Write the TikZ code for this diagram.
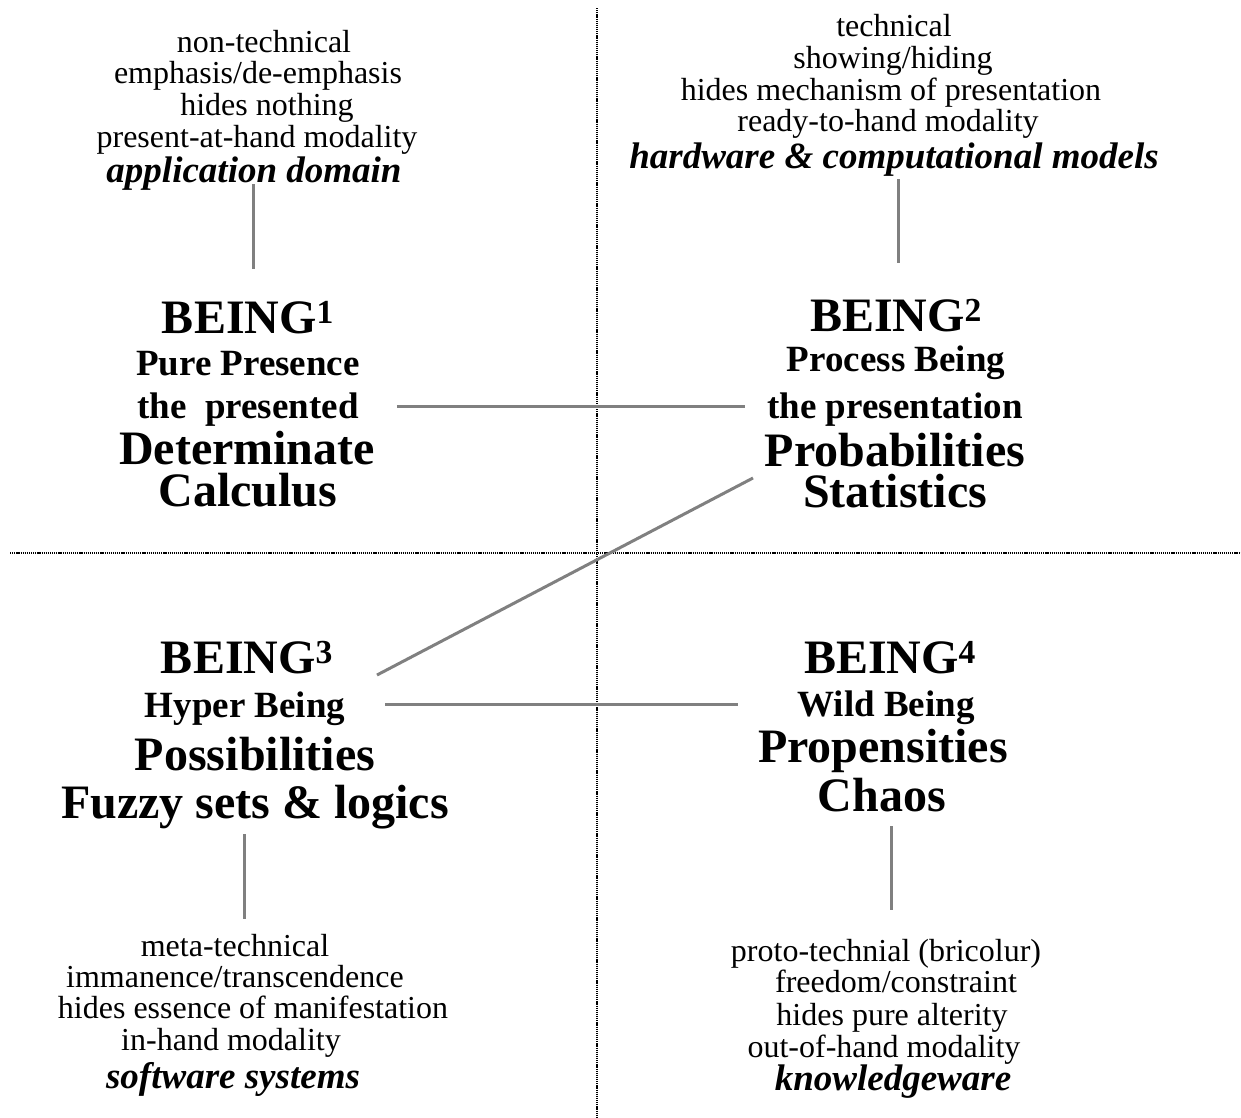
\documentclass[tikz,border=0pt]{standalone}
\usepackage{fontspec}
\setmainfont{Liberation Serif}
\begin{document}
\begin{tikzpicture}[x=1pt, y=-1pt, line join=round,
		txt/.style={anchor=base, inner sep=2pt, font=\fontsize{32}{32}\selectfont},
		dom/.style={anchor=base, inner sep=2pt, font=\fontsize{37}{37}\selectfont\bfseries\itshape},
		mid/.style={anchor=base, inner sep=2pt, font=\fontsize{37}{37}\selectfont\bfseries},
		big/.style={anchor=base, inner sep=2pt, font=\fontsize{48}{48}\selectfont\bfseries},
		link/.style={draw=black!50, line width=3pt},
		divider/.style={draw=black, line width=1.6pt, dash pattern=on 1.2pt off 0.9pt}]
	\useasboundingbox (0,0) rectangle (1241,1117);
	% quadrants
	\draw[divider] (597,8) -- (597,1117);
	\draw[divider] (10,553) -- (1241,553);
	% top left
	\foreach \x/\y/\t [count=\i] in {264/52/non-technical, 258/83/{emphasis/de-emphasis}, 267/115/hides nothing, 257/147/present-at-hand modality}
		\node[txt] (tl\i) at (\x,\y) {\t};
	\node[dom] (tldom) at (254,182) {application domain};
	% top right
	\foreach \x/\y/\t [count=\i] in {894/36/technical, 893/68/{showing/hiding}, 891/100/hides mechanism of presentation, 888/131/ready-to-hand modality}
		\node[txt] (tr\i) at (\x,\y) {\t};
	\node[dom] (trdom) at (894,168) {hardware \& computational models};
	% being 1
	\node[big] (b1) at (248,333) {BEING\textsuperscript{1}};
	\node[mid] (pure1) at (248,375) {Pure Presence};
	\node[mid] (pres1) at (248,418) {the \ presented};
	\node[big] (det1) at (247,464) {Determinate};
	\node[big] (calc1) at (248,506) {Calculus};
	% being 2
	\node[big] (b2) at (896,331) {BEING\textsuperscript{2}};
	\node[mid] (proc2) at (896,371) {Process Being};
	\node[mid] (pres2) at (895,418) {the presentation};
	\node[big] (prob2) at (895,466) {Probabilities};
	\node[big] (stat2) at (895,507) {Statistics};
	% being 3
	\node[big] (b3) at (247,673) {BEING\textsuperscript{3}};
	\node[mid] (hyp3) at (245,717) {Hyper Being};
	\node[big] (poss3) at (255,770) {Possibilities};
	\node[big] (fuzz3) at (255,818) {Fuzzy sets \& logics};
	% being 4
	\node[big] (b4) at (890,673) {BEING\textsuperscript{4}};
	\node[mid] (wild4) at (886,716) {Wild Being};
	\node[big] (prop4) at (883,762) {Propensities};
	\node[big] (chaos4) at (882,811) {Chaos};
	% bottom left
	\foreach \x/\y/\t [count=\i] in {235/956/meta-technical, 235/987/{immanence/transcendence}, 253/1018/hides essence of manifestation, 231/1050/in-hand modality}
		\node[txt] (bl\i) at (\x,\y) {\t};
	\node[dom] (bldom) at (233,1088) {software systems};
	% bottom right
	\foreach \x/\y/\t [count=\i] in {886/961/proto-technial (bricolur), 896/992/{freedom/constraint}, 892/1025/hides pure alterity, 884/1057/out-of-hand modality}
		\node[txt] (br\i) at (\x,\y) {\t};
	\node[dom] (brdom) at (893,1090) {knowledgeware};
	% links
	\coordinate (d2) at (753,478);
	\coordinate (d3) at (377,675);
	\draw[link, shorten <=2pt, shorten >=30pt] ([xshift=-1pt]tldom.base) -- ([xshift=-1pt]tldom.base |- b1.north);
	\draw[link, shorten <=11pt, shorten >=34pt] ([xshift=4pt]trdom.base) -- ([xshift=4pt]trdom.base |- b2.north);
	\draw[link, shorten <=36pt, shorten >=20pt] ([yshift=3pt]pres1.east) -- ([yshift=3pt]pres1.east -| pres2.west);
	\draw[link] (d2) -- (d3);
	\draw[link, shorten <=38pt, shorten >=57pt] ([yshift=4pt]hyp3.east) -- ([yshift=4pt]hyp3.east -| wild4.west);
	\draw[link, shorten <=16pt, shorten >=13pt] ([xshift=-11pt]fuzz3.base) -- ([xshift=-11pt]fuzz3.base |- bl1.north);
	\draw[link, shorten <=15pt, shorten >=27pt] ([xshift=9pt]chaos4.base) -- ([xshift=9pt]chaos4.base |- br1.north);
\end{tikzpicture}
\end{document}
